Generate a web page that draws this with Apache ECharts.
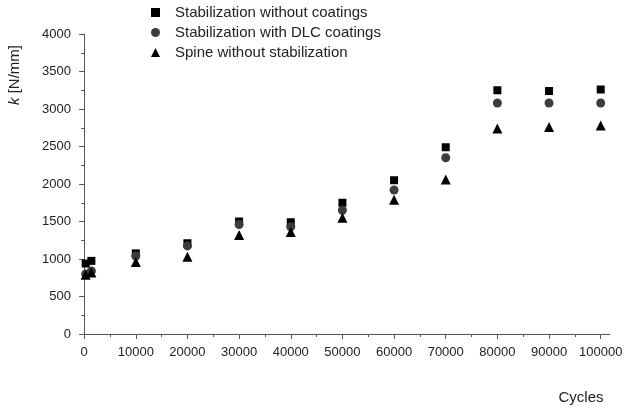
<!DOCTYPE html>
<html>
<head>
<meta charset="utf-8">
<script src="https://cdn.jsdelivr.net/npm/echarts@6/dist/echarts.min.js"></script>
<style>
  html, body { margin: 0; padding: 0; background: #fff; }
  #chart { width: 632px; height: 411px; }
</style>
</head>
<body>
<div id="chart"></div>
<script>
var cycles = [300, 1400, 10000, 20000, 30000, 40000, 50000, 60000, 70000, 80000, 90000, 100000];
var withoutCoatings = [940, 975, 1075, 1210, 1500, 1490, 1750, 2050, 2490, 3250, 3240, 3260];
var withDLC = [800, 840, 1040, 1175, 1460, 1430, 1650, 1920, 2350, 3080, 3080, 3080];
var spineOnly = [790, 820, 960, 1030, 1320, 1360, 1550, 1790, 2060, 2740, 2760, 2780];
var xMajorTicks = [0, 10000, 20000, 30000, 40000, 50000, 60000, 70000, 80000, 90000, 100000];
var xMinorTicks = [5000, 15000, 25000, 35000, 45000, 55000, 65000, 75000, 85000, 95000];
var seriesNames = ['Stabilization without coatings', 'Stabilization with DLC coatings', 'Spine without stabilization'];

function pairs(xs, ys) {
    return xs.map(function(x, i) { return [x, ys[i]]; });
}
function plain(v) { return String(v); }

var chart = echarts.init(document.getElementById('chart'));
var font = 'Liberation Sans, Arial, sans-serif';
var axisColor = '#555';

var chartOptions = {
    animation: false,
    textStyle: { fontFamily: font },
    grid: { left: 80, right: 22, top: 34, bottom: 77 },
    legend: {
        orient: 'vertical',
        left: 146,
        top: 0,
        itemGap: 5,
        itemWidth: 9,
        itemHeight: 9,
        textStyle: { fontFamily: font, fontSize: 15, color: '#222', padding: [0, 0, 0, 10] },
        data: seriesNames
    },
    xAxis: [{
        type: 'value',
        min: -800,
        max: 101800,
        position: 'bottom',
        axisLine: { show: true, onZero: false, lineStyle: { color: axisColor, width: 1 } },
        axisTick: { show: true, length: 5, customValues: xMajorTicks, lineStyle: { color: axisColor } },
        axisLabel: { customValues: xMajorTicks, fontSize: 13, color: '#222', margin: 12, formatter: plain },
        splitLine: { show: false }
    }, {
        type: 'value',
        min: -800,
        max: 101800,
        position: 'bottom',
        axisLine: { show: false },
        axisTick: { show: true, length: 3, customValues: xMinorTicks, lineStyle: { color: axisColor } },
        axisLabel: { show: false },
        splitLine: { show: false }
    }],
    yAxis: {
        type: 'value',
        min: 0,
        max: 4000,
        interval: 500,
        axisLine: { show: true, lineStyle: { color: axisColor, width: 1 } },
        axisTick: { show: true, length: 5, lineStyle: { color: axisColor } },
        minorTick: { show: true, splitNumber: 2, length: 3, lineStyle: { color: axisColor } },
        axisLabel: { fontSize: 13, color: '#222', margin: 9, formatter: plain },
        splitLine: { show: false }
    },
    graphic: [{
        type: 'text',
        x: 15,
        y: 75,
        rotation: Math.PI / 2,
        style: {
            text: '{i|k} [N/mm]',
            rich: { i: { fontStyle: 'italic', fontSize: 15, fontFamily: font, fill: '#222' } },
            font: '15px ' + font,
            fill: '#222',
            textAlign: 'center',
            textVerticalAlign: 'middle'
        }
    }, {
        type: 'text',
        x: 581,
        y: 398,
        style: {
            text: 'Cycles',
            font: '15px ' + font,
            fill: '#222',
            textAlign: 'center',
            textVerticalAlign: 'middle'
        }
    }],
    series: [{
        name: seriesNames[0],
        type: 'scatter',
        symbol: 'rect',
        symbolSize: 8,
        itemStyle: { color: '#000', opacity: 1 },
        data: pairs(cycles, withoutCoatings)
    }, {
        name: seriesNames[1],
        type: 'scatter',
        symbol: 'circle',
        symbolSize: 9,
        itemStyle: { color: '#3c3c3c', opacity: 1 },
        data: pairs(cycles, withDLC)
    }, {
        name: seriesNames[2],
        type: 'scatter',
        symbol: 'triangle',
        symbolSize: 10,
        itemStyle: { color: '#000', opacity: 1 },
        data: pairs(cycles, spineOnly)
    }]
};

chart.setOption(chartOptions);
</script>
</body>
</html>
